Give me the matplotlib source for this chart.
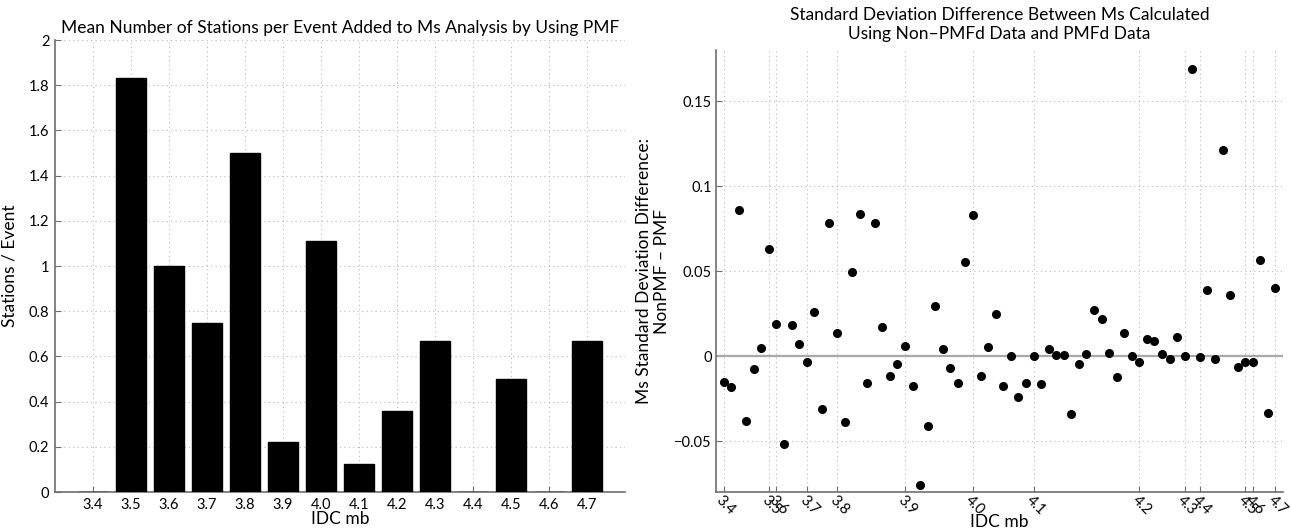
import matplotlib
matplotlib.use("Agg")
import matplotlib.pyplot as plt
import numpy as np

plt.rcParams['font.family'] = ['Lato', 'DejaVu Sans']

# left panel: mean stations per event added by PMF, per IDC mb bin
mb_bins = [3.4, 3.5, 3.6, 3.7, 3.8, 3.9, 4.0, 4.1, 4.2, 4.3, 4.4, 4.5, 4.6, 4.7]
mb_labels = ["3.4", "3.5", "3.6", "3.7", "3.8", "3.9", "4.0",
             "4.1", "4.2", "4.3", "4.4", "4.5", "4.6", "4.7"]
stations_per_event = [0, 1.833, 1.0, 0.75, 1.5, 0.222, 1.111,
                      0.125, 0.357, 0.667, 0, 0.5, 0, 0.667]
left_yticks = [0, 0.2, 0.4, 0.6, 0.8, 1, 1.2, 1.4, 1.6, 1.8, 2]
left_ylabels = ["0", "0.2", "0.4", "0.6", "0.8", "1", "1.2",
                "1.4", "1.6", "1.8", "2"]

# right panel: std difference per event (events sorted by mb)
std_diff = [-0.015, -0.018, 0.086, -0.038, -0.0075, 0.0047, 0.063, 0.0187,
            -0.0518, 0.018, 0.0073, -0.0033, 0.026, -0.031, 0.078, 0.0136,
            -0.0386, 0.0494, 0.0837, -0.0161, 0.078, 0.0171, -0.0118, -0.0049,
            0.0057, -0.0175, -0.076, -0.0413, 0.0297, 0.0043, -0.0073, -0.0157,
            0.0553, 0.0827, -0.012, 0.0055, 0.025, -0.0175, 0.0, -0.0242,
            -0.016, 0.0, -0.0163, 0.0039, 0.0008, 0.0004, -0.0343, -0.0045,
            0.0012, 0.027, 0.0217, 0.002, -0.0124, 0.0136, 0.0, -0.0035,
            0.0102, 0.0087, 0.0012, -0.0018, 0.011, 0.0, 0.169, -0.0004,
            0.0386, -0.002, 0.121, 0.0358, -0.0063, -0.0035, -0.0035, 0.0565,
            -0.0333, 0.040]
# first event index of each mb bin
tick_idx = [1, 7, 8, 12, 16, 25, 34, 42, 56, 62, 64, 70, 71, 74]
right_yticks = [-0.05, 0, 0.05, 0.1, 0.15]
right_ylabels = ["\u22120.05", "0", "0.05", "0.1", "0.15"]

spine_col = '#6e6e6e'
grid_kw = dict(color='#b8b8b8', linestyle=(0, (1, 3)), linewidth=0.8)

fig = plt.figure(figsize=(12.91, 5.29), dpi=100)

# ---- left: bar chart
ax1 = fig.add_axes([0.0426, 0.0699, 0.4415, 0.8544])
ax1.bar(mb_bins, stations_per_event, width=0.08, color='black',
        edgecolor='black', zorder=3)
ax1.set_xlim(3.3, 4.8)
ax1.set_ylim(0, 2)
ax1.set_xticks(mb_bins)
ax1.set_xticklabels(mb_labels)
ax1.set_yticks(left_yticks)
ax1.set_yticklabels(left_ylabels)
ax1.set_title("Mean Number of Stations per Event Added to Ms Analysis by Using PMF",
              fontsize=12.5, pad=5)
ax1.set_xlabel("IDC mb", fontsize=12.5)
ax1.xaxis.set_label_coords(0.5, -0.043)
ax1.set_ylabel("Stations / Event", fontsize=12.5, labelpad=8)

# ---- right: scatter by event index
ax2 = fig.add_axes([0.5546, 0.0699, 0.4392, 0.8355])
idx = np.arange(1, len(std_diff) + 1)
ax2.axhline(0, color='#a8a8a8', linewidth=1.6, zorder=2)
ax2.plot(idx, std_diff, 'o', color='black', markersize=5.5, zorder=3)
ax2.set_xlim(0, 75)
ax2.set_ylim(-0.08, 0.18)
ax2.set_xticks(tick_idx)
ax2.set_xticklabels(mb_labels, rotation=-45, ha='left', va='top',
                    rotation_mode='anchor', fontsize=9.5)
ax2.set_yticks(right_yticks)
ax2.set_yticklabels(right_ylabels)
ax2.set_title("Standard Deviation Difference Between Ms Calculated\n"
              "Using Non\u2013PMFd Data and PMFd Data", fontsize=12.5, pad=8,
              linespacing=1.25)
ax2.set_xlabel("IDC mb", fontsize=12.5)
ax2.xaxis.set_label_coords(0.5, -0.05)
ax2.set_ylabel("Ms Standard Deviation Difference:\nNonPMF \u2013 PMF",
               fontsize=12.5, labelpad=3, linespacing=1.15)

for ax in (ax1, ax2):
    ax.grid(True, **grid_kw)
    ax.set_axisbelow(True)
    for s in ('top', 'right'):
        ax.spines[s].set_visible(False)
    for s in ('left', 'bottom'):
        ax.spines[s].set_color(spine_col)
        ax.spines[s].set_linewidth(1.2)
    ax.tick_params(direction='in', length=4, color=spine_col,
                   labelsize=10.5, pad=4)
ax2.tick_params(axis='x', pad=1)
ax2.tick_params(axis='y', pad=3)

fig.savefig("out.png", dpi=100)
